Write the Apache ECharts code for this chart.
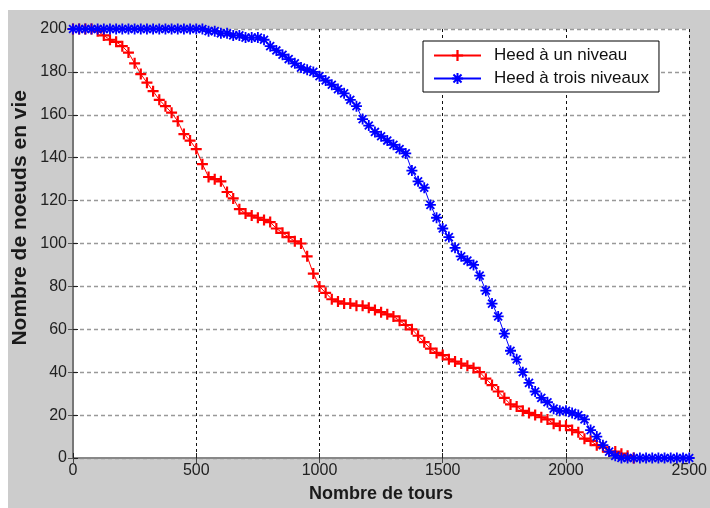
<!DOCTYPE html>
<html>
<head>
<meta charset="utf-8">
<script src="https://cdn.jsdelivr.net/npm/echarts@6/dist/echarts.min.js"></script>
<style>html,body{margin:0;padding:0;background:#fff;overflow:hidden}#c{width:710px;height:508px}</style>
</head>
<body>
<div id="c"></div>
<script>
const rounds = [0,25,50,75,100,125,150,175,200,225,250,275,300,325,350,375,400,425,450,475,
  500,525,550,575,600,625,650,675,700,725,750,775,800,825,850,875,900,925,950,975,
  1000,1025,1050,1075,1100,1125,1150,1175,1200,1225,1250,1275,1300,1325,1350,1375,1400,1425,1450,1475,
  1500,1525,1550,1575,1600,1625,1650,1675,1700,1725,1750,1775,1800,1825,1850,1875,1900,1925,1950,1975,
  2000,2025,2050,2075,2100,2125,2150,2175,2200,2225,2250,2275,2300,2325,2350,2375,2400,2425,2450,2475,2500];

const redName = 'Heed à un niveau';
const blueName = 'Heed à trois niveaux';

const redValues = [200,200,200,200,199,197,195,194,192,189,184,179,175,171,167,164,161,157,151,148,
  144,137,131,130,129,124,121,116,114,113,112,111,110,107,105,103,101,100,94,86,
  80,77,74,73,72,72,71,71,70,69,68,67,66,64,62,60,57,54,51,49,
  48,46,45,44,43,42,40,37,34,31,28,25,24,22,21,20,19,18,16,15,
  15,13,12,9,8,6,5,3,3,2,1,0];

const blueValues = [200,200,200,200,200,200,200,200,200,200,200,200,200,200,200,200,200,200,200,200,
  200,200,199,199,198,198,197,197,196,196,196,195,192,190,188,186,184,182,181,180,
  178,176,174,172,170,167,164,158,155,152,150,148,146,144,142,134,129,126,118,112,
  107,103,98,94,92,90,85,78,72,66,58,50,46,40,35,31,28,26,23,22,
  22,21,20,18,13,10,6,3,1,0,0,0,0,0,0,0,0,0,0,0,0];

const xTicks = [0,500,1000,1500,2000,2500];
const yTicks = [0,20,40,60,80,100,120,140,160,180,200];

function pairs(xs, ys){ return ys.map((v,i)=>[xs[i], v]); }

const plusPath = 'path://M-1,-5L1,-5L1,-1L5,-1L5,1L1,1L1,5L-1,5L-1,1L-5,1L-5,-1L-1,-1Z';
const starPath = 'path://M-5,0L5,0M0,-5L0,5M-3.6,-3.6L3.6,3.6M3.6,-3.6L-3.6,3.6';

const font = "'Liberation Sans', Arial, sans-serif";
const chart = echarts.init(document.getElementById('c'), null, {renderer:'canvas'});
chart.setOption({
  animation:false,
  backgroundColor:'#ffffff',
  graphic:[
    {type:'rect', z:-10, silent:true, shape:{x:8,y:10,width:702,height:498}, style:{fill:'#cccccc'}},
    {type:'text', z:10, left:10, top:90, rotation:Math.PI/2, silent:true,
      style:{text:'Nombre de noeuds en vie', font:"bold 21px 'Liberation Sans', Arial, sans-serif", fill:'#1a1a1a'}}
  ],
  grid:{left:73, top:29, right:16, bottom:44, show:true, backgroundColor:'#ffffff', borderWidth:0},
  legend:{
    orient:'vertical', left:423, top:41, padding:[6,10,5,10], itemGap:6,
    itemWidth:47, itemHeight:14,
    backgroundColor:'#ffffff', borderColor:'#000', borderWidth:1, borderRadius:0,
    textStyle:{fontFamily:font, fontSize:17, lineHeight:17, color:'#111', padding:[0,0,0,8]},
    data:[redName, blueName]
  },
  xAxis:[
    {type:'value', min:0, max:2500, interval:500, position:'bottom',
     name:'Nombre de tours', nameLocation:'middle', nameGap:27,
     nameTextStyle:{fontFamily:font, fontSize:18, fontWeight:'bold', color:'#1a1a1a'},
     axisLine:{show:true, lineStyle:{color:'#222', width:1.5}},
     axisTick:{show:true, inside:true, length:5, lineStyle:{color:'#222'}},
     axisLabel:{fontFamily:font, fontSize:16, color:'#222', margin:5,
       formatter:(v)=> xTicks.indexOf(v)>=0 ? String(v) : ''},
     splitLine:{show:true, lineStyle:{color:'#111', type:[3,3], width:1}}},
    {type:'value', min:0, max:2500, interval:500, position:'top',
     axisLine:{show:true, lineStyle:{color:'#888', width:2}},
     axisTick:{show:true, inside:true, length:5, lineStyle:{color:'#444'}},
     axisLabel:{show:false}, splitLine:{show:false}}
  ],
  yAxis:[
    {type:'value', min:0, max:200, interval:20, position:'left',
     axisLine:{show:true, lineStyle:{color:'#222', width:1.5}},
     axisTick:{show:true, inside:true, length:5, lineStyle:{color:'#222'}},
     axisLabel:{fontFamily:font, fontSize:16, color:'#222', margin:6,
       formatter:(v)=> yTicks.indexOf(v)>=0 ? String(v) : ''},
     splitLine:{show:true, lineStyle:{color:'#999', type:[4,3], width:1.4}}},
    {type:'value', min:0, max:200, interval:20, position:'right',
     axisLine:{show:true, lineStyle:{color:'#777', width:2}},
     axisTick:{show:true, inside:true, length:5, lineStyle:{color:'#555'}},
     axisLabel:{show:false}, splitLine:{show:false}}
  ],
  series:[
    {name:redName, type:'line', xAxisIndex:0, yAxisIndex:0, data:pairs(rounds, redValues),
     symbol:plusPath, symbolSize:11, showAllSymbol:true,
     itemStyle:{color:'#ff0000'}, lineStyle:{color:'#ff0000', width:1}, z:3},
    {name:blueName, type:'line', xAxisIndex:0, yAxisIndex:0, data:pairs(rounds, blueValues),
     symbol:starPath, symbolSize:11, showAllSymbol:true,
     itemStyle:{color:'rgba(0,0,255,0)', borderColor:'#0000ff', borderWidth:1.8},
     lineStyle:{color:'#0000ff', width:1}, z:4}
  ]
});
</script>
</body>
</html>
